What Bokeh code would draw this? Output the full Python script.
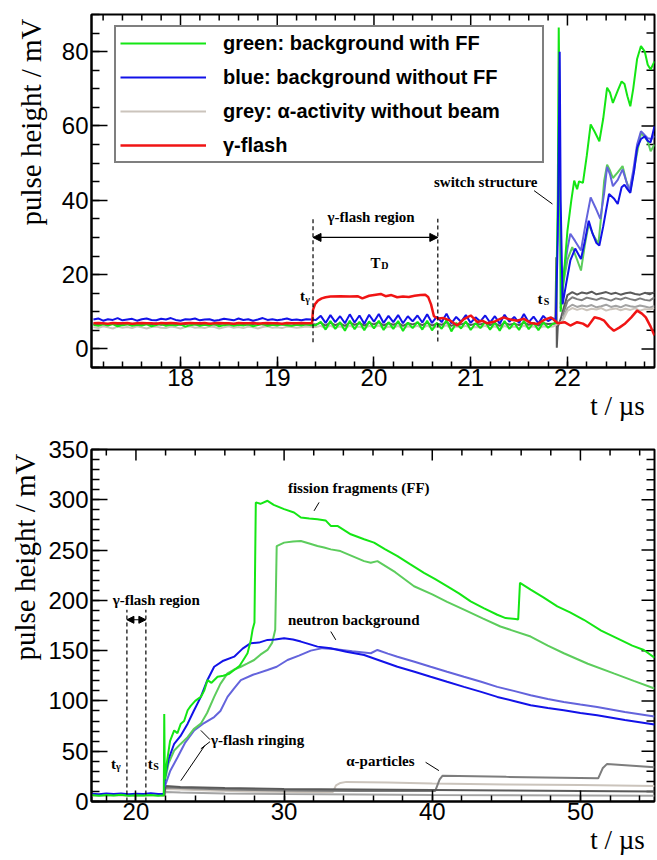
import numpy as np
from bokeh.plotting import figure
from bokeh.models import (Range1d, Label, Arrow, NormalHead, Legend, Title,
                          LegendItem, SingleIntervalTicker)
from bokeh.layouts import column
from bokeh.embed import file_html
from bokeh.resources import INLINE

SERIF = "Liberation Serif"
SANS = "Liberation Sans"

C_G1 = "#14e614"
C_G2 = "#5ccc5c"
C_B1 = "#1212e8"
C_B2 = "#6464dc"
C_RED = "#f01414"
C_GD = "#5a5a5a"
C_GM = "#7d7d7d"
C_GL = "#a3a3a3"
C_GW = "#cbc4bc"

# ---------------- top panel data (t in us, pulse height in mV) ----------------
blue_pre = [7.9, 8.2, 7.6, 8.0, 7.8, 8.3, 7.7, 7.9, 8.1, 7.6,
            8.0, 8.2, 7.8, 7.7, 8.1, 7.9, 8.3, 7.8, 7.6, 8.0,
            7.9, 8.2, 7.7, 7.9, 8.0, 7.6, 7.8, 8.1, 7.9, 7.7,
            8.2, 7.8, 8.0, 7.6, 7.9, 8.3, 7.8, 8.0, 7.7, 7.9,
            8.2, 7.8, 7.9, 7.7, 8.0, 7.9]
green_pre = [6.5, 6.2, 6.6, 6.3, 6.7, 6.1, 6.4, 6.6, 6.2, 6.5,
             6.3, 6.6, 6.1, 6.4, 6.7, 6.2, 6.5, 6.3, 6.6, 6.0,
             6.4, 6.6, 6.2, 6.5, 6.3, 6.7, 6.1, 6.4, 6.6, 6.2,
             6.5, 6.3, 6.6, 6.1, 6.4, 6.7, 6.2, 6.5, 6.3, 6.6,
             6.4, 6.2, 6.5, 6.3, 6.6, 6.4]
gw_pre = [5.9, 5.6, 6.1, 5.8, 5.5, 6.0, 5.7, 5.9, 5.6, 6.1,
          5.8, 5.5, 5.9, 6.0, 5.7, 5.6, 6.0, 5.8, 5.5, 5.9,
          6.1, 5.7, 5.8, 5.6, 6.0, 5.9, 5.5, 5.8, 6.1, 5.7,
          5.9, 5.6, 6.0, 5.8, 5.5, 5.9, 6.1, 5.7, 5.8, 5.6,
          6.0, 5.9, 5.7, 5.8, 6.0, 5.9]
gd_pre = [6.7, 6.5, 6.8, 6.6, 6.9, 6.5, 6.7, 6.8, 6.6, 6.7,
          6.5, 6.8, 6.6, 6.9, 6.5, 6.7, 6.6, 6.8, 6.5, 6.7,
          6.9, 6.6, 6.7, 6.5, 6.8, 6.6, 6.7, 6.9, 6.5, 6.7,
          6.6, 6.8, 6.5, 6.7, 6.9, 6.6, 6.7, 6.5, 6.8, 6.6,
          6.7, 6.9, 6.5, 6.7, 6.6, 6.7]
red_pre = [6.9, 7.0, 6.9, 6.8, 7.0, 6.9, 6.9, 7.0, 6.8, 6.9,
           7.0, 6.9, 6.9, 6.8, 7.0, 6.9, 7.0, 6.9, 6.8, 6.9,
           7.0, 6.9, 6.9, 7.0, 6.8, 6.9, 7.0, 6.9, 6.9, 6.8,
           7.0, 6.9, 6.9, 7.0, 6.8, 6.9, 7.0, 6.9, 6.9, 6.8,
           7.0, 6.9, 6.9, 7.0, 6.9, 6.9]

blue_ring = [7.8, 8.9, 7.0, 9.1, 7.2, 8.8, 6.9, 9.3, 7.1, 9.0,
             6.8, 9.2, 7.3, 9.4, 7.0, 8.9, 7.2, 9.1, 6.9, 8.8,
             7.4, 9.0, 7.1, 9.3, 7.0, 8.7, 7.2, 9.5, 6.9, 8.6,
             7.3, 9.1, 7.0, 8.5, 7.4, 9.0, 7.1, 8.8, 6.8, 9.2,
             7.3, 8.6, 7.0, 9.4, 7.2, 8.7, 6.9, 8.9, 7.5, 8.3]
green_ring = [6.4, 7.3, 5.2, 7.5, 5.4, 7.2, 4.9, 7.6, 5.3, 7.3,
              5.0, 7.4, 5.5, 7.6, 5.1, 7.2, 5.4, 7.5, 4.8, 7.1,
              5.6, 7.3, 5.2, 7.6, 5.0, 7.0, 5.4, 7.8, 4.7, 7.0,
              5.5, 7.4, 5.1, 6.9, 5.6, 7.3, 5.2, 7.2, 4.9, 7.5,
              5.4, 7.0, 5.1, 7.6, 5.3, 7.1, 5.0, 7.2, 5.7, 6.8]
gw_ring = [5.9, 6.2, 5.5, 6.3, 5.6, 6.1, 5.4, 6.3, 5.7, 6.0,
           5.5, 6.2, 5.8, 6.3, 5.5, 6.0, 5.7, 6.2, 5.4, 6.1,
           5.8, 6.2, 5.6, 6.3, 5.5, 6.0, 5.7, 6.4, 5.4, 6.0,
           5.8, 6.2, 5.6, 5.9, 5.8, 6.2, 5.6, 6.1, 5.4, 6.2,
           5.7, 6.0, 5.6, 6.3, 5.7, 6.1, 5.5, 6.1, 5.9, 6.0]
gd_ring = [6.6, 7.0, 6.3, 7.1, 6.4, 6.9, 6.2, 7.1, 6.5, 6.9,
           6.3, 7.0, 6.6, 7.2, 6.3, 6.9, 6.5, 7.0, 6.2, 6.9,
           6.6, 7.0, 6.4, 7.1, 6.3, 6.8, 6.5, 7.2, 6.2, 6.8,
           6.6, 7.0, 6.4, 6.8, 6.6, 7.0, 6.4, 6.9, 6.2, 7.0,
           6.5, 6.8, 6.4, 7.1, 6.5, 6.9, 6.3, 6.9, 6.7, 6.8]

red_t = [19.36, 19.37, 19.39, 19.42, 19.46, 19.50, 19.55, 19.65, 19.75, 19.83,
         19.88, 19.95, 20.02, 20.07, 20.12, 20.18, 20.24, 20.30, 20.36, 20.42,
         20.48, 20.53, 20.56, 20.59, 20.62, 20.66, 20.72, 20.79, 20.86, 20.93,
         21.00, 21.07, 21.12, 21.17, 21.25, 21.34, 21.41, 21.48, 21.55, 21.62,
         21.69, 21.76, 21.83, 21.90, 21.97, 22.03, 22.10, 22.16, 22.21, 22.28,
         22.33, 22.38, 22.43, 22.48, 22.54, 22.59, 22.66, 22.72, 22.77, 22.81,
         22.86, 22.90]
red_v = [7.0, 10.5, 12.0, 13.0, 13.6, 13.9, 14.1, 14.2, 14.1, 14.2,
         13.6, 14.3, 14.6, 14.8, 14.2, 14.5, 13.9, 14.1, 14.0, 14.3,
         14.5, 14.6, 14.0, 12.0, 8.8, 8.2, 8.3, 7.6, 6.3, 8.0,
         9.0, 7.2, 7.6, 6.9, 7.4, 8.5, 7.9, 7.6, 8.1, 7.0,
         6.7, 7.8, 8.5, 6.9, 7.2, 6.3, 7.2, 6.8, 6.0, 8.5,
         8.2, 7.6, 6.0, 4.9, 5.8, 6.7, 8.5, 10.3, 9.5, 8.5,
         6.0, 3.6]

g1_post_t = [21.88, 21.90, 21.91, 21.92, 21.93, 21.95, 22.00, 22.04, 22.07, 22.10,
             22.12, 22.16, 22.20, 22.24, 22.28, 22.33, 22.37, 22.41, 22.44, 22.47,
             22.52, 22.56, 22.59, 22.62, 22.65, 22.68, 22.72, 22.76, 22.80, 22.83,
             22.86, 22.90]
g1_post_v = [7.0, 40.0, 86.5, 60.0, 10.0, 15.7, 31.8, 40.0, 45.3, 43.0,
             45.1, 44.7, 52.0, 60.4, 58.5, 55.9, 62.0, 70.3, 69.0, 66.2,
             69.5, 72.0, 71.3, 68.0, 65.3, 70.0, 78.0, 81.5, 80.0, 76.5,
             75.2, 77.4]
b1_post_t = [21.88, 21.90, 21.92, 21.93, 21.95, 21.99, 22.03, 22.08, 22.14, 22.18,
             22.22, 22.26, 22.30, 22.33, 22.37, 22.43, 22.48, 22.52, 22.56, 22.59,
             22.62, 22.65, 22.69, 22.72, 22.76, 22.80, 22.83, 22.86, 22.90]
b1_post_v = [7.5, 30.0, 80.0, 40.0, 12.0, 18.0, 23.8, 27.0, 24.2, 29.0,
             34.5, 31.0, 28.5, 27.8, 33.0, 41.7, 40.5, 39.0, 43.5, 44.2,
             43.0, 42.0, 48.0, 54.1, 56.5, 57.2, 56.0, 55.6, 59.9]
b2_post_t = [21.93, 21.96, 22.00, 22.03, 22.08, 22.14, 22.19, 22.24, 22.29, 22.34,
             22.38, 22.41, 22.44, 22.47, 22.52, 22.57, 22.61, 22.64, 22.68, 22.72,
             22.76, 22.80, 22.83, 22.87, 22.90]
b2_post_v = [12.0, 20.0, 27.0, 31.0, 29.0, 26.5, 34.0, 40.8, 38.0, 35.0,
             42.0, 49.0, 47.0, 43.8, 45.5, 48.3, 45.0, 42.4, 48.0, 55.0,
             58.6, 57.5, 56.7, 56.5, 57.3]
g2_post_t = [21.93, 21.96, 22.00, 22.05, 22.10, 22.14, 22.18, 22.22, 22.27, 22.32,
             22.35, 22.38, 22.41, 22.44, 22.47, 22.52, 22.57, 22.61, 22.65, 22.70,
             22.76, 22.80, 22.83, 22.86, 22.90]
g2_post_v = [11.0, 18.0, 24.0, 27.4, 24.0, 21.1, 28.0, 33.6, 30.5, 28.3,
             36.0, 45.3, 49.6, 48.0, 46.0, 47.5, 49.2, 45.0, 42.4, 50.0,
             58.1, 57.0, 55.9, 53.2, 55.0]

gd_switch_t = [21.875, 21.885, 21.89, 21.90, 21.93]
gd_switch_v = [6.8, 24.7, 0.3, 6.0, 8.0]
gd_post = [10.0, 14.5, 15.3, 14.6, 15.2, 14.9, 15.4, 14.7, 15.0, 15.3,
           14.8, 15.1, 14.6, 15.0, 15.2, 14.8, 14.6, 15.1, 14.7, 15.3]
gm_post = [9.0, 12.8, 13.9, 13.4, 13.1, 13.8, 13.5, 13.2, 13.7, 13.4,
           13.0, 13.6, 13.3, 13.8, 13.4, 13.1, 13.6, 13.2, 13.0, 13.9]
gl_post = [8.0, 11.0, 11.9, 11.3, 11.7, 11.4, 11.8, 11.2, 11.5, 11.9,
           11.3, 11.6, 11.2, 11.8, 11.5, 11.3, 11.7, 11.4, 11.1, 11.6]
gw_post = [7.5, 10.2, 11.0, 10.5, 10.9, 10.4, 10.8, 10.6, 11.0, 10.3,
           10.7, 10.9, 10.4, 10.8, 10.5, 10.9, 10.3, 10.7, 10.6, 11.0]

t_pre = list(np.round(np.linspace(17.10, 19.35, len(blue_pre)), 3))
t_ring = list(np.round(np.linspace(19.40, 21.85, len(blue_ring)), 3))
t_gpost = list(np.round(np.linspace(21.95, 22.90, len(gd_post)), 3))

# ---------------- bottom panel data ----------------
tb_base = [17.0, 17.5, 18.0, 18.5, 19.0, 19.5, 20.0, 20.5, 21.0, 21.5, 21.85]
g1b_base = [6.5, 5.8, 6.4, 5.9, 6.6, 5.7, 6.3, 6.0, 6.5, 5.8, 6.2]
b1b_base = [7.8, 7.3, 7.9, 7.4, 8.0, 7.2, 7.7, 7.5, 8.1, 7.4, 7.6]
gwb_base = [5.8, 6.0, 5.7, 6.1, 5.9, 5.8, 6.0, 5.7, 5.9, 6.0, 5.8]

g1b_t = [21.88, 21.91, 21.95, 22.10, 22.30, 22.58, 22.80, 23.03, 23.25, 23.49,
         23.70, 24.00, 24.38, 24.60, 24.83, 25.10, 25.51, 25.90, 26.30, 26.63,
         27.00, 27.30, 27.53, 27.75, 27.87, 28.00, 28.09, 28.40, 28.88, 29.30,
         30.00, 30.67, 31.13, 31.70, 32.25, 32.80, 33.15, 33.60, 34.50, 35.40,
         36.07, 36.80, 37.65, 38.50, 39.44, 40.20, 41.02, 41.80, 42.59, 43.50,
         44.39, 44.95, 45.62, 45.80, 45.92, 46.64, 47.50, 48.44, 49.30, 50.23,
         51.40, 52.70, 53.50, 54.28, 55.0]
g1b_v = [6.0, 87.0, 22.0, 40.0, 60.0, 70.7, 68.0, 77.4, 80.0, 90.7,
         95.0, 100.0, 104.0, 110.0, 120.7, 118.0, 124.0, 125.0, 127.0, 130.7,
         135.0, 142.0, 147.4, 160.0, 170.7, 178.0, 297.4, 296.0, 299.0, 295.0,
         290.7, 287.4, 282.4, 281.5, 280.7, 279.5, 274.0, 274.0, 265.7, 260.7,
         257.4, 251.0, 244.0, 236.0, 227.4, 221.0, 214.0, 207.0, 199.0, 192.0,
         185.7, 182.4, 181.4, 181.0, 217.4, 210.7, 203.0, 194.0, 188.0, 180.7,
         170.0, 160.7, 155.0, 150.7, 143.0]
g2b_t = [21.95, 22.20, 22.58, 23.00, 23.49, 23.90, 24.38, 24.80, 25.28, 25.70,
         26.18, 26.60, 27.08, 27.50, 27.98, 28.40, 28.88, 29.20, 29.40, 29.50,
         30.00, 30.60, 31.13, 31.70, 32.25, 32.70, 33.15, 33.80, 34.60, 35.40,
         35.85, 36.30, 37.50, 38.77, 40.00, 41.00, 42.14, 43.40, 44.60, 45.28,
         46.64, 47.80, 48.88, 50.50, 52.25, 53.60, 55.0]
g2b_v = [20.0, 38.0, 50.7, 57.0, 64.0, 72.0, 77.4, 88.0, 104.0, 117.0,
         127.4, 131.0, 134.0, 137.0, 140.7, 146.0, 150.7, 158.0, 170.7, 254.0,
         257.4, 258.5, 259.0, 256.5, 254.0, 252.5, 250.7, 249.0, 244.0, 239.0,
         237.4, 239.0, 228.0, 214.0, 206.0, 198.5, 190.7, 182.0, 174.0, 170.7,
         164.0, 155.0, 147.4, 137.0, 127.4, 120.0, 112.4]
b1b_t = [21.88, 21.95, 22.20, 22.58, 23.00, 23.49, 23.90, 24.38, 24.80, 25.28,
         25.90, 26.63, 27.20, 27.75, 28.30, 28.88, 29.40, 30.00, 30.60, 31.13,
         31.70, 32.25, 33.15, 34.20, 35.40, 36.50, 37.65, 38.80, 39.89, 41.00,
         42.14, 43.30, 44.39, 45.50, 46.64, 47.80, 48.88, 50.00, 51.13, 53.00,
         55.0]
b1b_v = [7.5, 24.0, 42.0, 57.4, 65.0, 77.4, 90.0, 104.0, 120.0, 134.0,
         140.0, 144.0, 152.0, 157.4, 158.0, 160.7, 161.0, 162.4, 161.0, 159.0,
         156.5, 154.0, 152.4, 149.0, 145.7, 140.0, 134.0, 129.0, 124.0, 119.0,
         114.0, 109.0, 104.0, 100.0, 95.7, 93.0, 90.7, 88.0, 85.7, 81.0,
         76.5]
b2b_t = [21.95, 22.30, 22.81, 23.30, 23.93, 24.60, 25.28, 25.70, 26.18, 26.60,
         27.08, 27.90, 28.88, 29.50, 30.23, 31.00, 31.80, 32.60, 33.50, 34.60,
         35.85, 36.30, 37.00, 37.65, 38.80, 39.89, 41.00, 42.14, 43.30, 44.39,
         45.50, 46.64, 47.80, 48.88, 50.00, 51.13, 53.00, 55.0]
b2b_v = [15.0, 30.0, 44.0, 58.0, 70.7, 78.0, 84.0, 90.0, 104.0, 112.0,
         120.7, 126.0, 130.7, 134.0, 140.7, 145.0, 150.0, 152.5, 151.5, 149.5,
         147.4, 150.7, 147.0, 144.0, 139.0, 134.0, 129.0, 124.0, 119.0, 114.0,
         110.0, 105.7, 102.0, 99.0, 96.5, 94.0, 89.0, 84.5]
gwb_t = [21.90, 22.00, 23.0, 25.0, 28.0, 31.0, 33.3, 33.5, 33.8, 34.2,
         37.0, 40.0, 45.0, 50.0, 55.0]
gwb_v = [6.0, 12.5, 12.0, 11.0, 10.0, 9.5, 9.5, 16.0, 18.5, 19.5,
         19.0, 18.0, 17.0, 16.5, 15.5]
gmb_t = [21.90, 22.00, 23.0, 26.0, 30.0, 35.0, 40.2, 40.5, 40.7, 45.0,
         51.2, 51.5, 51.8, 55.0]
gmb_v = [6.0, 14.0, 13.5, 12.0, 11.0, 10.5, 10.5, 22.0, 25.7, 24.5,
         23.0, 33.0, 37.4, 34.0]
gdb_t = [21.90, 22.00, 23.0, 26.0, 30.0, 35.0, 40.0, 45.0, 50.0, 55.0]
gdb_v = [6.0, 15.5, 14.5, 13.5, 12.5, 12.0, 11.5, 11.0, 10.5, 10.0]
glb_v = [5.0, 9.5, 9.0, 8.0, 7.5, 7.0, 6.5, 6.3, 6.0, 5.8]

W = 657
BL, BR = 91, 3
FW = W - BL - BR


def xy(x, y):
    n = min(len(x), len(y))
    return list(x)[:n], list(y)[:n]


def style_axes(p, xint, xminor, yint, yminor, ystand):
    xa = p.xaxis[0]
    ya = p.yaxis[0]
    xa.ticker = SingleIntervalTicker(interval=xint, num_minor_ticks=xminor)
    ya.ticker = SingleIntervalTicker(interval=yint, num_minor_ticks=yminor)
    for a in (xa, ya):
        a.axis_line_width = 2
        a.axis_line_color = "black"
        a.major_tick_out = 0
        a.minor_tick_out = 0
        a.major_tick_line_width = 1.5
        a.minor_tick_line_width = 1.5
        a.major_label_text_font = SANS
        a.major_label_text_font_size = "24px"
        a.major_label_text_color = "black"
    xa.major_tick_in = 11
    xa.minor_tick_in = 6
    xa.major_label_standoff = 1
    ya.major_tick_in = 16
    ya.minor_tick_in = 8
    ya.major_label_standoff = 3
    # axis titles, right-adjusted as in the original figure
    p.add_layout(Title(text="pulse height / mV", align="right", text_font=SERIF,
                       text_font_size="29px", text_font_style="normal", text_color="black",
                       standoff=ystand, offset=4), "left")
    p.add_layout(Title(text="t /  µs", align="right", text_font=SERIF,
                       text_font_size="27px", text_font_style="normal", text_color="black",
                       standoff=0, offset=3), "below")
    p.grid.visible = False
    p.outline_line_color = "black"
    p.outline_line_width = 2


def mirror_ticks(p, xr, yr, fh, xmaj, xmin, ymaj, ymin):
    """ROOT-style ticks on the top and right frame edges."""
    dx = (xr[1] - xr[0]) / FW
    dy = (yr[1] - yr[0]) / fh
    eps = 1e-6
    xs = np.arange(np.ceil(xr[0] / xmin - eps) * xmin, xr[1] + eps, xmin)
    x_major = [v for v in xs if abs(v / xmaj - round(v / xmaj)) < 1e-4]
    x_minor = [v for v in xs if abs(v / xmaj - round(v / xmaj)) >= 1e-4]
    ys = np.arange(np.ceil(yr[0] / ymin - eps) * ymin, yr[1] + eps, ymin)
    y_major = [v for v in ys if abs(v / ymaj - round(v / ymaj)) < 1e-4]
    y_minor = [v for v in ys if abs(v / ymaj - round(v / ymaj)) >= 1e-4]
    kw = dict(line_color="black", line_width=1.5)
    p.segment(x0=x_major, y0=[yr[1]] * len(x_major), x1=x_major,
              y1=[yr[1] - 11 * dy] * len(x_major), **kw)
    p.segment(x0=x_minor, y0=[yr[1]] * len(x_minor), x1=x_minor,
              y1=[yr[1] - 6 * dy] * len(x_minor), **kw)
    p.segment(x0=[xr[1]] * len(y_major), y0=y_major, x1=[xr[1] - 13 * dx] * len(y_major),
              y1=y_major, **kw)
    p.segment(x0=[xr[1]] * len(y_minor), y0=y_minor, x1=[xr[1] - 8 * dx] * len(y_minor),
              y1=y_minor, **kw)


def lab(p, text, x, y, size=15, style="bold", align="left", baseline="alphabetic", font=SERIF):
    p.add_layout(Label(x=x, y=y, text=text, text_font=font, text_font_size=f"{size}px",
                       text_font_style=style, text_align=align, text_baseline=baseline,
                       text_color="black"))


# ---------------- top figure ----------------
XR1, YR1 = (17.08, 22.9), (-5.0, 90.0)
H1, BT1, BB1 = 432, 14, 65
p1 = figure(width=W, height=H1, x_range=Range1d(*XR1), y_range=Range1d(*YR1),
            output_backend="svg", toolbar_location=None,
            min_border_left=BL, min_border_right=BR, min_border_top=BT1, min_border_bottom=BB1)
style_axes(p1, 1, 5, 20, 4, 23)
mirror_ticks(p1, XR1, YR1, H1 - BT1 - BB1, 1.0, 0.2, 20.0, 5.0)

lw = 2
x, y = xy(t_pre + t_ring + gd_switch_t + t_gpost, gd_pre + gd_ring + gd_switch_v + gd_post)
p1.line(x, y, line_color=C_GD, line_width=lw)
x, y = xy(t_gpost, gm_post)
p1.line(x, y, line_color=C_GM, line_width=lw)
x, y = xy(t_gpost, gl_post)
p1.line(x, y, line_color=C_GL, line_width=lw)
x, y = xy(t_pre + t_ring + t_gpost, gw_pre + gw_ring + gw_post)
r_grey = p1.line(x, y, line_color=C_GW, line_width=lw)
x, y = xy(g2_post_t, g2_post_v)
p1.line(x, y, line_color=C_G2, line_width=lw)
x, y = xy(b2_post_t, b2_post_v)
p1.line(x, y, line_color=C_B2, line_width=lw)
x, y = xy(t_pre + t_ring + g1_post_t, green_pre + green_ring + g1_post_v)
r_green = p1.line(x, y, line_color=C_G1, line_width=lw)
x, y = xy(t_pre + t_ring + b1_post_t, blue_pre + blue_ring + b1_post_v)
r_blue = p1.line(x, y, line_color=C_B1, line_width=lw)
x, y = xy(t_pre + red_t, red_pre + red_v)
r_red = p1.line(x, y, line_color=C_RED, line_width=2.5)

# annotations top
p1.segment(x0=[19.37, 20.66], y0=[1.8, 2.0], x1=[19.37, 20.66], y1=[35.0, 35.0],
           line_color="black", line_width=1.2, line_dash="4 3")
p1.add_layout(Arrow(start=NormalHead(size=8, fill_color="black", line_color="black"),
                    end=NormalHead(size=8, fill_color="black", line_color="black"),
                    x_start=19.37, y_start=30.0, x_end=20.66, y_end=30.0, line_width=1.2))
lab(p1, "γ-flash region", 19.52, 35.4, baseline="middle")
lab(p1, "T", 19.965, 23.2)
lab(p1, "D", 20.075, 22.4, size=10)
lab(p1, "t", 19.235, 14.3)
lab(p1, "γ", 19.29, 13.2, size=10)
lab(p1, "t", 21.69, 13.5)
lab(p1, "S", 21.755, 12.8, size=10)
lab(p1, "switch structure", 21.155, 44.85, align="center", baseline="middle")
p1.segment(x0=[21.655], y0=[42.6], x1=[21.845], y1=[39.0], line_color="black", line_width=1)

legend = Legend(items=[LegendItem(label="green: background with FF", renderers=[r_green]),
                       LegendItem(label="blue: background without FF", renderers=[r_blue]),
                       LegendItem(label="grey: α-activity without beam", renderers=[r_grey]),
                       LegendItem(label="γ-flash", renderers=[r_red])],
                location=(23, 204), border_line_color="black", border_line_width=2,
                background_fill_color="white", background_fill_alpha=1.0,
                label_text_font=SANS, label_text_font_style="bold", label_text_font_size="20px",
                label_text_color="black",
                glyph_width=86, glyph_height=24, label_height=24, label_width=315,
                label_standoff=17, spacing=10, padding=4, margin=0)
p1.add_layout(legend)

# ---------------- bottom figure ----------------
XR2, YR2 = (17.0, 55.0), (0.0, 350.0)
H2, BT2, BB2 = 428, 17, 59
p2 = figure(width=W, height=H2, x_range=Range1d(*XR2), y_range=Range1d(*YR2),
            output_backend="svg", toolbar_location=None,
            min_border_left=BL, min_border_right=BR, min_border_top=BT2, min_border_bottom=BB2)
style_axes(p2, 10, 5, 50, 5, 10)
mirror_ticks(p2, XR2, YR2, H2 - BT2 - BB2, 10.0, 2.0, 50.0, 10.0)

x, y = xy(tb_base + gwb_t, gwb_base + gwb_v)
p2.line(x, y, line_color=C_GW, line_width=lw)
x, y = xy(gdb_t, glb_v)
p2.line(x, y, line_color=C_GL, line_width=lw)
x, y = xy(gmb_t, gmb_v)
p2.line(x, y, line_color=C_GM, line_width=lw)
x, y = xy(gdb_t, gdb_v)
p2.line(x, y, line_color=C_GD, line_width=lw)
x, y = xy(b2b_t, b2b_v)
p2.line(x, y, line_color=C_B2, line_width=lw)
x, y = xy(g2b_t, g2b_v)
p2.line(x, y, line_color=C_G2, line_width=lw)
x, y = xy(tb_base + b1b_t, b1b_base + b1b_v)
p2.line(x, y, line_color=C_B1, line_width=lw)
x, y = xy(tb_base + g1b_t, g1b_base + g1b_v)
p2.line(x, y, line_color=C_G1, line_width=lw)

# annotations bottom
p2.segment(x0=[19.39, 20.67], y0=[0.0, 0.0], x1=[19.39, 20.67], y1=[190.7, 190.7],
           line_color="black", line_width=1.2, line_dash="4 3")
p2.add_layout(Arrow(start=NormalHead(size=7, fill_color="black", line_color="black"),
                    end=NormalHead(size=7, fill_color="black", line_color="black"),
                    x_start=19.39, y_start=180.7, x_end=20.67, y_end=180.7, line_width=1.2))
lab(p2, "γ-flash region", 18.43, 200.7, baseline="middle")
lab(p2, "t", 18.31, 37.7)
lab(p2, "γ", 18.66, 34.5, size=10)
lab(p2, "t", 20.79, 37.7)
lab(p2, "S", 21.16, 34.5, size=10)
lab(p2, "fission fragments (FF)", 35.04, 311.7, align="center", baseline="middle")
p2.segment(x0=[32.36], y0=[297.4], x1=[32.02], y1=[289.0], line_color="black", line_width=1)
lab(p2, "neutron background", 34.7, 180.7, align="center", baseline="middle")
p2.segment(x0=[33.15], y0=[169.0], x1=[33.49], y1=[160.7], line_color="black", line_width=1)
lab(p2, "γ-flash ringing", 25.06, 60.7, baseline="middle")
p2.segment(x0=[25.0, 25.0, 24.65], y0=[61.5, 59.5, 55.7], x1=[24.38, 24.38, 23.03],
           y1=[70.7, 52.4, 20.7], line_color="black", line_width=1)
lab(p2, "α-particles", 36.5, 40.7, align="center", baseline="middle")
p2.segment(x0=[39.55], y0=[39.0], x1=[40.45], y1=[30.7], line_color="black", line_width=1)

layout = column(p1, p2, spacing=0)
open("out.html", "w").write(file_html(layout, INLINE))
